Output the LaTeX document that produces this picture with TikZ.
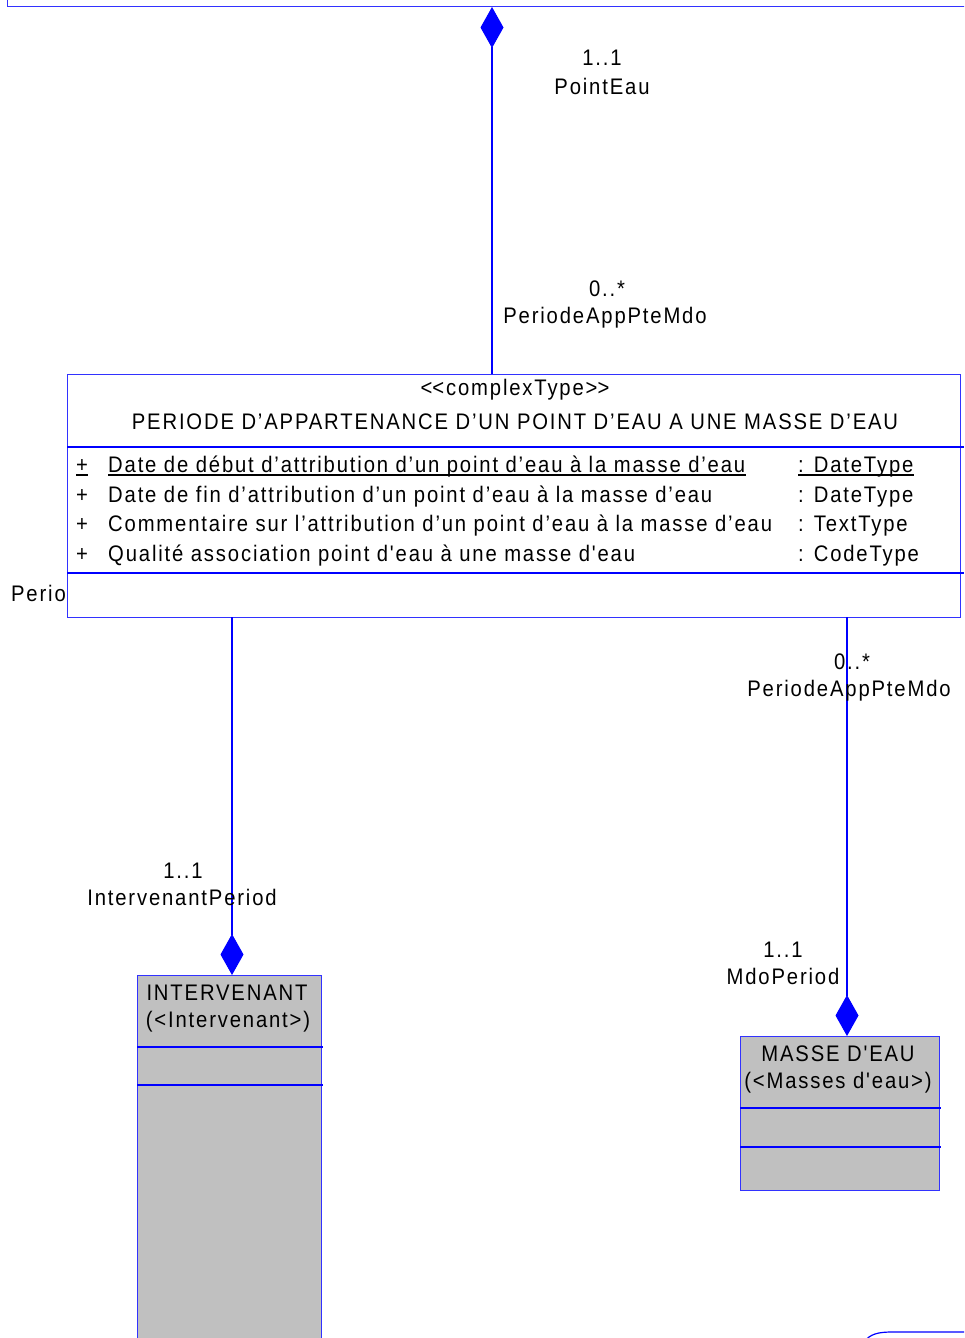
\documentclass[tikz,border=0pt]{standalone}
\usepackage{fontspec}
\newfontfamily\umlfont{Liberation Sans}[FakeStretch=0.9, LetterSpace=8.2]
\usetikzlibrary{arrows.meta}
\definecolor{umlblue}{RGB}{0,0,255}
\definecolor{boxblue}{RGB}{50,50,255}
\definecolor{umlgray}{RGB}{192,192,192}
\tikzset{
  txt/.style={inner sep=0pt, anchor=base, font=\umlfont\fontsize{22.5}{27}\selectfont, text=black},
  txtw/.style={txt, anchor=base west},
  conn/.style={draw=umlblue, line width=1.1pt},
  comp/.style={conn, -{Diamond[length=41pt,width=23pt,fill=umlblue]}},
  box/.style={draw=boxblue, line width=1.2pt, inner sep=0pt, anchor=north west},
  sep/.style={draw=umlblue, line width=1.2pt},
  ul/.style={draw=black, line width=1.1pt}
}
\begin{document}
\begin{tikzpicture}[x=1pt,y=-1pt]
\useasboundingbox (0,0) rectangle (964,1338);
\clip (0,0) rectangle (964,1338);
% top (cut) box
\node[box, anchor=south west, minimum width=1000pt, minimum height=60pt] (top) at (7,7) {};
% main class
\node[box, minimum width=893pt, minimum height=243pt] (main) at (67,374) {};
\draw[sep] (67,447) -- (964,447);
\draw[sep] (67,573) -- (964,573);
\node[txt] (st) at (515,395) {<\kern0pt<complexType>\kern0pt>};
\node[txt] (title) at (515,429) {PERIODE D’APPARTENANCE D’UN POINT D’EAU A UNE MASSE D’EAU};
\node[txtw] (p1) at (76,472) {+};
\node[txtw] (a1) at (108,472) {Date de début d’attribution d’un point d’eau à la masse d’eau\ };
\node[txtw] (t1) at (798,472) {: DateType};
\draw[ul] ([yshift=-3pt]p1.base west) -- ([yshift=-3pt]p1.base east);
\draw[ul] ([yshift=-3pt]a1.base west) -- ([yshift=-3pt]a1.base east);
\draw[ul] ([yshift=-3pt]t1.base west) -- ([yshift=-3pt]t1.base east);
\node[txtw] (p2) at (76,502) {+};
\node[txtw] (a2) at (108,502) {Date de fin d’attribution d’un point d’eau à la masse d’eau};
\node[txtw] (t2) at (798,502) {: DateType};
\node[txtw] (p3) at (76,531) {+};
\node[txtw] (a3) at (108,531) {Commentaire sur l’attribution d’un point d’eau à la masse d’eau};
\node[txtw] (t3) at (798,531) {: TextType};
\node[txtw] (p4) at (76,561) {+};
\node[txtw] (a4) at (108,561) {Qualité association point d'eau à une masse d'eau};
\node[txtw] (t4) at (798,561) {: CodeType};
\node[txt, anchor=base east] (perio) at (66,601) {Perio};
% intervenant
\node[box, fill=umlgray, minimum width=184pt, minimum height=370pt] (inter) at (137,975) {};
\draw[sep] (137,1047) -- (323,1047);
\draw[sep] (137,1085) -- (323,1085);
\node[txt] (in1) at (227,1000) {INTERVENANT};
\node[txt] (in2) at (228,1027) {(<Intervenant>)};
% masse d'eau
\node[box, fill=umlgray, minimum width=199pt, minimum height=154pt] (mdo) at (740,1036) {};
\draw[sep] (740,1108) -- (941,1108);
\draw[sep] (740,1147) -- (941,1147);
\node[txt] (m1) at (838,1061) {MASSE D'EAU};
\node[txt] (m2) at (838,1088) {(<Masses d'eau>)};
% connector endpoints
\coordinate (c1a) at (492,374);
\coordinate (c1b) at (492,7);
\coordinate (c2a) at (232,617);
\coordinate (c2b) at (232,975);
\coordinate (c3a) at (847,617);
\coordinate (c3b) at (847,1036);
\draw[comp] (c1a) -- (c1b);
\draw[comp] (c2a) -- (c2b);
\draw[comp] (c3a) -- (c3b);
% role labels
\node[txt] (r1m) at (602,66) {1..1};
\node[txt] (r1n) at (602,94) {PointEau};
\node[txt] (r2m) at (607,296) {0..*};
\node[txt] (r2n) at (605,323) {PeriodeAppPteMdo};
\node[txt] (r3m) at (183,878) {1..1};
\node[txt] (r3n) at (182,905) {IntervenantPeriod};
\node[txt] (r4m) at (852,669) {0..*};
\node[txt] (r4n) at (849,696) {PeriodeAppPteMdo};
\node[txt] (r5m) at (783,957) {1..1};
\node[txt] (r5n) at (783,984) {MdoPeriod};
% partial shape bottom right
\coordinate (br0) at (864,1342);
\coordinate (br1) at (892,1332);
\coordinate (br2) at (970,1332);
\draw[sep] (br0) .. controls (870,1334) and (878,1332) .. (br1) -- (br2);
\end{tikzpicture}
\end{document}
